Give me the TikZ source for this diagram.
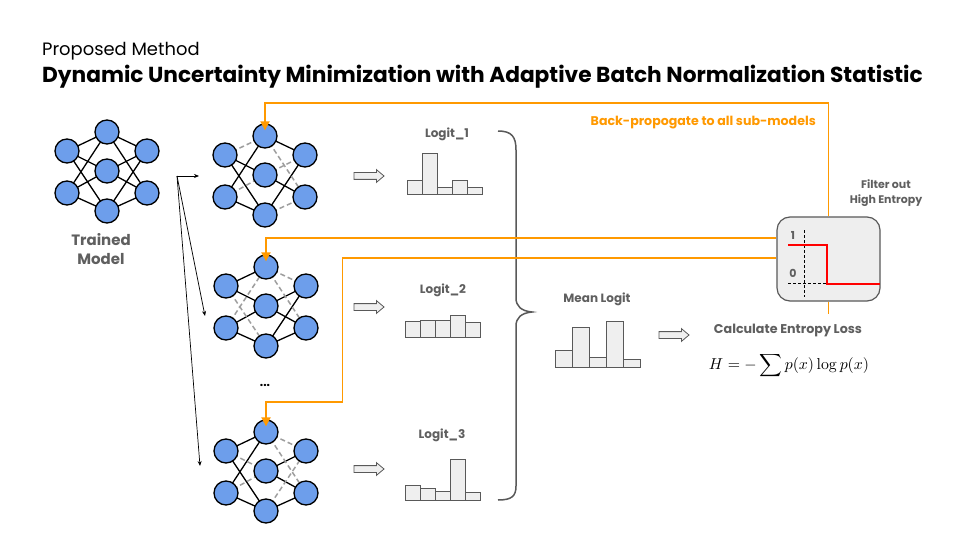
\documentclass[tikz,border=0pt]{standalone}
\usepackage[no-math]{fontspec}
\setmainfont{Poppins}
\usetikzlibrary{arrows.meta,shapes.arrows,calc}
\definecolor{netblue}{HTML}{6D9EEB}
\definecolor{bporange}{HTML}{FF9900}
\definecolor{txtgray}{HTML}{5F5F5F}
\definecolor{dashgray}{HTML}{9E9E9E}
\definecolor{barfill}{HTML}{EFEFEF}
\definecolor{barline}{HTML}{595959}
\definecolor{boxfill}{HTML}{EEEEEE}
\pgfdeclarelayer{bg}\pgfsetlayers{bg,main}
\tikzset{
  nn/.style={circle,minimum size=24pt,inner sep=0pt,fill=netblue,draw=black,line width=1.3pt},
  se/.style={black,line width=1.3pt},
  de/.style={dashgray,line width=1.5pt,dash pattern=on 5pt off 3pt},
  lbl/.style={text=txtgray,font=\bfseries\fontsize{12}{14}\selectfont,inner sep=0pt},
  bar/.style={draw=barline,fill=barfill,line width=0.8pt},
  hollow/.style={single arrow,draw=barline,fill=barfill,line width=0.8pt,minimum height=30pt,minimum width=12pt,inner sep=3pt,single arrow head extend=3pt,single arrow tip angle=80},
  oline/.style={bporange,line width=1.8pt},
  ohead/.style={-{Triangle[width=9pt,length=9pt]}},
  thinarrow/.style={black,line width=0.7pt,-{Stealth[width=4pt,length=5pt]}},
}
\newcommand\mknet[3]{%
  \node[nn] (#1T) at (#2,#3) {};
  \node[nn] (#1TL) at (#2-40,#3+19) {};
  \node[nn] (#1TR) at (#2+40,#3+19) {};
  \node[nn] (#1C) at (#2,#3+39) {};
  \node[nn] (#1BL) at (#2-40,#3+61) {};
  \node[nn] (#1BR) at (#2+40,#3+61) {};
  \node[nn] (#1B) at (#2,#3+79) {};}
\newcommand\mkedges[3]{%
  \begin{pgfonlayer}{bg}
  \foreach \a/\b in {#2} {\draw[se] (#1\a.center) -- (#1\b.center);}
  \foreach \a/\b in {#3} {\draw[de] (#1\a.center) -- (#1\b.center);}
  \end{pgfonlayer}}
\newcommand\mkbars[7]{%
  \draw[bar] (#1,#2) rectangle (#1+15,#3);
  \draw[bar] (#1+15,#2) rectangle (#1+30,#4);
  \draw[bar] (#1+30,#2) rectangle (#1+45,#5);
  \draw[bar] (#1+45,#2) rectangle (#1+60,#6);
  \draw[bar] (#1+60,#2) rectangle (#1+75,#7);}
\begin{document}
\begin{tikzpicture}[x=1pt,y=-1pt]
\useasboundingbox (0,0) rectangle (960,540);
\begin{pgfonlayer}{bg}
\fill[white] (0,0) rectangle (960,540);
\end{pgfonlayer}

% titles
\node[anchor=west,inner sep=0pt] (sub) at (42,51) {\fontsize{17.9}{20}\selectfont Proposed Method};
\node[anchor=west,inner sep=0pt] (title) at (42,77) {\bfseries\fontsize{21.7}{24}\selectfont Dynamic Uncertainty Minimization with Adaptive Batch Normalization Statistic};

% trained model
\mknet{N}{107}{132}
\mkedges{N}{TL/T,TL/C,TL/B,BL/T,BL/C,BL/B,T/TR,C/TR,B/TR,T/BR,C/BR,B/BR}{}
\node[lbl,align=center,font=\bfseries\fontsize{15}{19}\selectfont] (tm) at (101,249) {Trained\\Model};

% sub-models
\mknet{A}{265}{136}
\mkedges{A}{TL/C,TL/B,BL/T,BL/B,T/TR,C/BR,B/TR}{TL/T,BL/C,T/BR,C/TR,B/BR}
\mknet{M}{266}{267}
\mkedges{M}{TL/T,TL/C,BL/C,BL/B,C/TR,B/TR,C/BR,B/BR}{TL/B,BL/T,T/TR,T/BR}
\mknet{Z}{266}{432}
\mkedges{Z}{TL/T,TL/B,BL/T,BL/B,C/TR,C/BR,B/BR}{TL/C,BL/C,T/TR,T/BR,B/TR}
\node[font=\bfseries\fontsize{12}{14}\selectfont,inner sep=0pt] (dots) at (265,385) {...};

% fan-out arrows
\coordinate (fan) at (177,176);
\coordinate (f1) at (199,176);
\coordinate (f2) at (205,316);
\coordinate (f3) at (200,466);
\draw[thinarrow] (fan) -- (f1);
\draw[thinarrow] (fan) -- (f2);
\draw[thinarrow] (fan) -- (f3);

% hollow arrows
\node[hollow] (h1) at (367,176) {};
\node[hollow] (h2) at (367,307) {};
\node[hollow] (h3) at (367,469) {};
\node[hollow] (h4) at (672,335) {};

% logits
\node[lbl] (l1) at (447,134) {Logit\_1};
\mkbars{407}{194}{180}{153}{187}{180}{187}
\node[lbl] (l2) at (443,290) {Logit\_2};
\mkbars{405}{337}{321}{320}{320}{315}{322}
\node[lbl] (l3) at (442,435) {Logit\_3};
\mkbars{405.5}{500}{485.5}{488}{491}{459}{492}

% brace
\draw[barline,line width=1.5pt] (498,131) .. controls (512,131) and (516,137) .. (516,150) -- (516,298)
  .. controls (516,306) and (521,311) .. (532,312) .. controls (521,313) and (516,318) .. (516,326)
  -- (516,486) .. controls (516,496) and (512,500) .. (498,500);

% mean logit
\node[lbl] (ml) at (597,299) {Mean Logit};
\draw[bar] (555,367) rectangle (572,350);
\draw[bar] (572,367) rectangle (589,327);
\draw[bar] (589,367) rectangle (606,357);
\draw[bar] (606,367) rectangle (623,321);
\draw[bar] (623,367) rectangle (640,359);

% entropy
\node[lbl,font=\bfseries\fontsize{12.7}{14}\selectfont] (ce) at (788,330) {Calculate Entropy Loss};
\node[inner sep=0pt] (formula) at (789,366) {\scalebox{1.58}{$\displaystyle H = -\sum p(x)\log p(x)$}};

% filter box
\node[draw=barline,fill=boxfill,line width=1.2pt,rounded corners=13pt,minimum width=103pt,minimum height=84pt,inner sep=0pt] (F) at (828.5,259) {};
\draw[black,line width=0.7pt,dash pattern=on 3pt off 2pt] (804,230) -- (804,297);
\draw[black,line width=0.7pt,dash pattern=on 3pt off 2pt] (788,283.5) -- (827,283.5);
\draw[red,line width=2pt] (788,244.5) -- (827,244.5) -- (827,283.5) -- (879.5,283.5);
\node[lbl,font=\bfseries\fontsize{11}{13}\selectfont] (one) at (793,235) {1};
\node[lbl,font=\bfseries\fontsize{11}{13}\selectfont] (zero) at (793,273) {0};
\node[lbl,align=center,font=\bfseries\fontsize{11}{15}\selectfont] (fo) at (886,193) {Filter out\\High Entropy};

% orange back-propagation paths
\draw[oline,ohead] (F.north) -- ++(0,-113) -| ($(AT.north)+(0,7)$);
\draw[oline,ohead] ($(F.west)+(0,-21)$) -| ($(MT.north)+(0,7)$);
\draw[oline,ohead] ($(F.west)+(0,-1)$) -- ++(-434,0) -- ++(0,144) -| ($(ZT.north)+(0,7)$);
\draw[oline] (F.south) -- ++(0,12);
\node[anchor=east,text=bporange,font=\bfseries\fontsize{12.6}{14}\selectfont,inner sep=0pt] (bp) at (816,123) {Back-propogate to all sub-models};
\end{tikzpicture}
\end{document}
